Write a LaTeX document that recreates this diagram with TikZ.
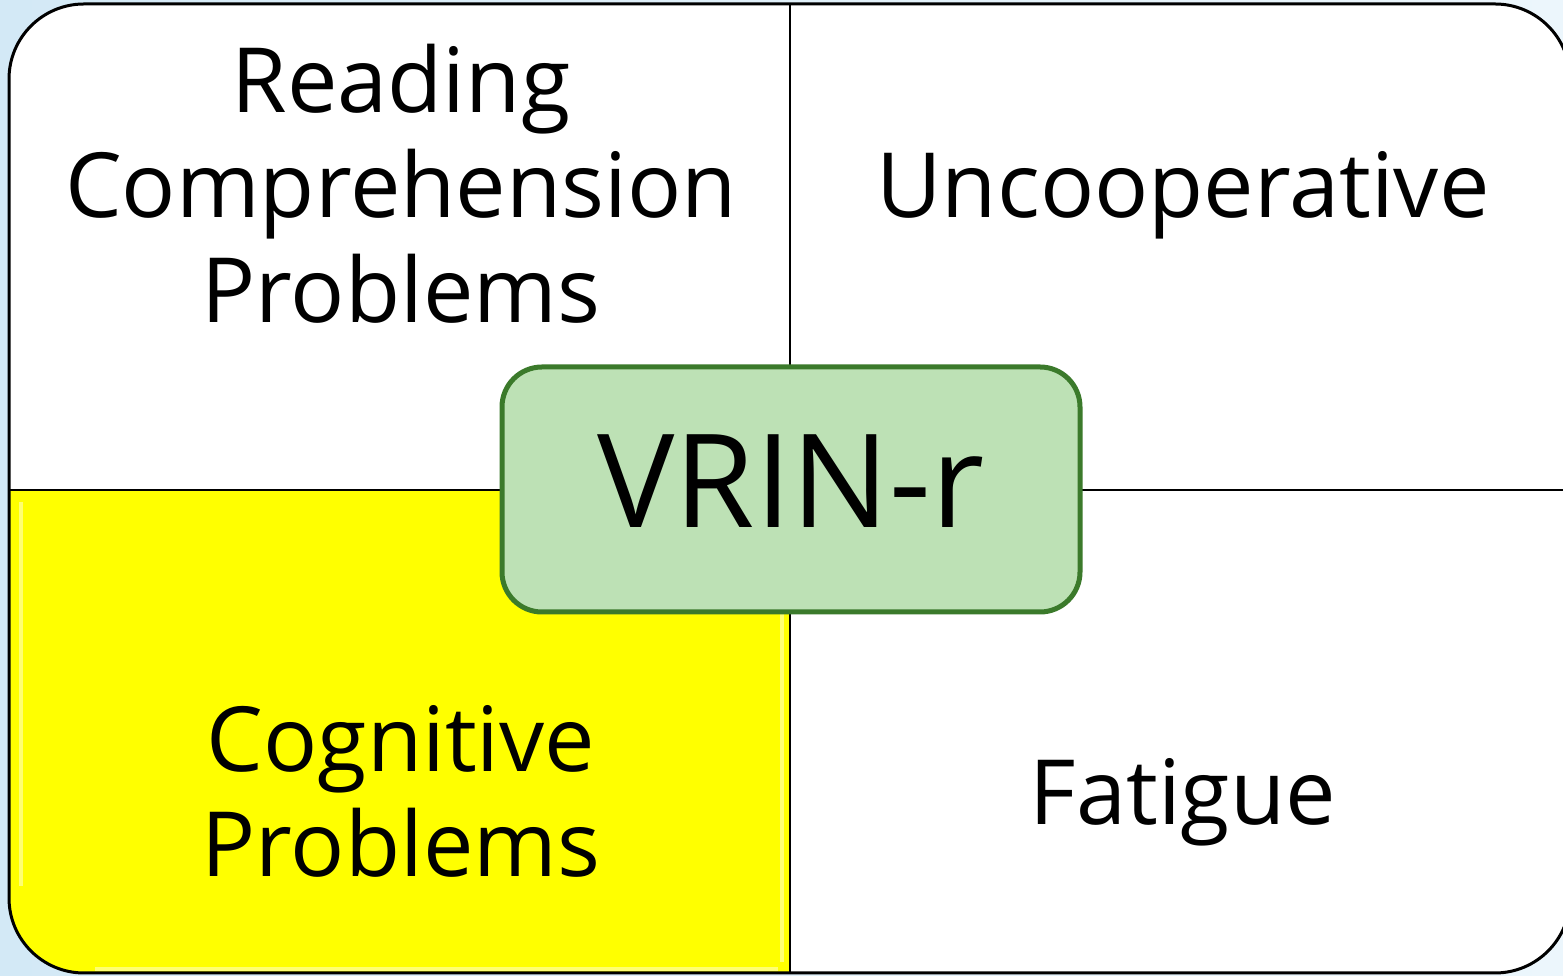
\documentclass[tikz,border=0pt]{standalone}
\usepackage{fontspec}
\setmainfont{Open Sans}
\definecolor{bgL}{HTML}{D3E9F6}
\definecolor{bgR}{HTML}{ECF6FC}
\definecolor{quadY}{HTML}{FFFF00}
\definecolor{boxG}{HTML}{BDE1B5}
\definecolor{boxGd}{HTML}{3B7A2B}
\begin{document}
\begin{tikzpicture}[x=1pt,y=1pt,
  lbl/.style={inner sep=0pt,align=center,font=\fontsize{90}{105}\selectfont},
  bigl/.style={inner sep=0pt,font=\fontsize{130}{140}\selectfont},
  bevel/.style={white,opacity=0.45,line width=4pt}]
\clip (0,0) rectangle (1563,976);
\useasboundingbox (0,0) rectangle (1563,976);
\shade[left color=bgL,right color=bgR] (0,0) rectangle (1563,976);
% quadrants
\fill[white] (9,486) -- (9,897) arc[start angle=180,end angle=90,radius=75] -- (790,972) -- (790,486) -- cycle;
\fill[white] (790,486) -- (790,972) -- (1495,972) arc[start angle=90,end angle=0,radius=75] -- (1570,486) -- cycle;
\fill[white] (790,486) -- (1570,486) -- (1570,78) arc[start angle=0,end angle=-90,radius=75] -- (790,3) -- cycle;
\fill[quadY] (9,486) -- (790,486) -- (790,3) -- (84,3) arc[start angle=270,end angle=180,radius=75] -- cycle;
\draw[bevel] (21,474) -- (21,90);
\draw[bevel] (782,474) -- (782,14);
\draw[bevel] (95,7) -- (778,7);
% frame and dividers
\draw[line width=3pt,rounded corners=75pt] (9,3) rectangle (1570,972);
\draw[line width=2pt] (790,3) -- (790,972);
\draw[line width=2pt] (9,486) -- (1570,486);
% centre box
\node[draw=boxGd,fill=boxG,line width=5pt,rounded corners=40pt,minimum width=578pt,minimum height=245pt,inner sep=0pt] (box) at (791,486.5) {};
\node[bigl,anchor=base] (vrin) at (791,448) {VRIN-r};
% labels
\node[lbl,anchor=base] (rcp) at (401,653) {Reading\\Comprehension\\Problems};
\node[lbl,anchor=base] (unc) at (1183,758) {Uncooperative};
\node[lbl,anchor=base] (cog) at (401,99) {Cognitive\\Problems};
\node[lbl,anchor=base] (fat) at (1183,151) {Fatigue};
\end{tikzpicture}
\end{document}
